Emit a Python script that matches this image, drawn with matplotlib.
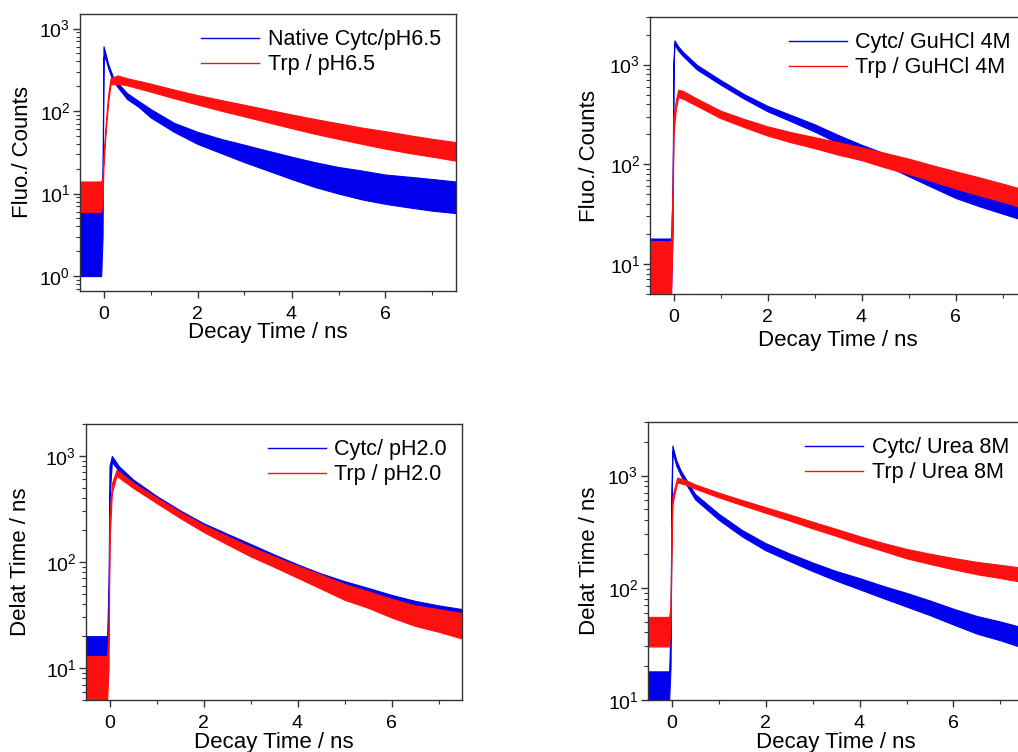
import numpy as np
import matplotlib.pyplot as plt
from matplotlib.ticker import LogLocator, MultipleLocator

plt.rcParams['font.family'] = ['Liberation Sans', 'DejaVu Sans']
plt.rcParams['mathtext.fontset'] = 'custom'
plt.rcParams['mathtext.rm'] = 'Liberation Sans'

BLUE = '#0000ee'
RED = '#ff1010'

# ---- data (noise band: lower / upper envelope) ----
# panel 1: native, pH 6.5
t_native_cytc = [-0.5, -0.05, -0.02, 0.0, 0.05, 0.1, 0.2, 0.35, 0.5, 0.75, 1.0, 1.5, 2.0, 2.5,
                 3.0, 3.5, 4.0, 4.5, 5.0, 5.5, 6.0, 6.5, 7.0, 7.5]
native_cytc_lo = [1, 1, 3, 450, 420, 330, 230, 180, 140, 112, 84, 56, 40, 31,
                  24, 19, 15, 12, 10, 8.5, 7.5, 6.8, 6.2, 5.8]
native_cytc_hi = [6, 6, 20, 610, 480, 370, 260, 205, 165, 132, 106, 72, 56, 46,
                  39, 33, 28, 24, 21, 19, 17, 16, 15, 14]
t_native_trp = [-0.5, -0.05, -0.02, 0.0, 0.05, 0.1, 0.15, 0.3, 0.5, 1.0, 1.5, 2.0, 2.5, 3.0,
                3.5, 4.0, 4.5, 5.0, 5.5, 6.0, 6.5, 7.0, 7.5]
native_trp_lo = [6, 6, 8, 22, 60, 130, 210, 215, 205, 172, 143, 120, 101, 86,
                 73, 62, 53, 46, 40, 35, 31, 28, 25]
native_trp_hi = [14, 14, 16, 28, 75, 160, 250, 270, 250, 215, 182, 156, 136, 119,
                 104, 91, 80, 71, 63, 57, 51, 46, 42]

# panel 2: GuHCl 4M
t_gu_cytc = [-0.5, -0.05, -0.02, 0.0, 0.02, 0.1, 0.2, 0.5, 1.0, 1.5, 2.0, 2.5, 3.0, 3.5,
             4.0, 4.5, 5.0, 5.5, 6.0, 6.5, 7.0, 7.5]
gu_cytc_lo = [6, 6, 20, 900, 1600, 1380, 1220, 890, 630, 455, 340, 270, 213, 163,
              125, 98, 76, 59, 46, 38, 32, 27]
gu_cytc_hi = [18, 18, 60, 1100, 1750, 1520, 1340, 990, 700, 505, 385, 312, 252, 197,
              157, 128, 102, 83, 66, 57, 49, 42]
t_gu_trp = [-0.5, -0.05, -0.02, 0.0, 0.05, 0.1, 0.2, 0.5, 1.0, 1.5, 2.0, 2.5, 3.0, 3.5,
            4.0, 4.5, 5.0, 5.5, 6.0, 6.5, 7.0, 7.5]
gu_trp_lo = [5, 5, 25, 200, 360, 470, 455, 385, 290, 236, 194, 166, 145, 125,
             110, 93, 80, 68, 57, 49, 42, 36]
gu_trp_hi = [17, 17, 55, 300, 440, 560, 545, 455, 345, 285, 240, 210, 187, 167,
             148, 130, 114, 98, 85, 74, 64, 55]

# panel 3: pH 2.0
t_ph2_cytc = [-0.5, -0.05, -0.02, 0.0, 0.05, 0.2, 0.5, 1.0, 1.5, 2.0, 2.5, 3.0, 3.5, 4.0,
              4.5, 5.0, 5.5, 6.0, 6.5, 7.0, 7.5]
ph2_cytc_lo = [7, 7, 25, 400, 880, 720, 540, 375, 270, 200, 155, 122, 96, 75,
               60, 49, 40, 33, 28, 24, 21]
ph2_cytc_hi = [20, 20, 60, 800, 1000, 800, 600, 420, 307, 232, 185, 148, 118, 95,
               78, 66, 57, 49, 43, 39, 36]
t_ph2_trp = [-0.5, -0.05, -0.02, 0.0, 0.05, 0.15, 0.5, 1.0, 1.5, 2.0, 2.5, 3.0, 3.5, 4.0,
             4.5, 5.0, 5.5, 6.0, 6.5, 7.0, 7.5]
ph2_trp_lo = [5, 5, 10, 150, 450, 650, 500, 360, 260, 192, 147, 113, 90, 71,
              56, 44, 37, 30, 25, 22, 19]
ph2_trp_hi = [13, 13, 22, 260, 550, 740, 560, 405, 298, 224, 176, 139, 113, 92,
              76, 62, 53, 45, 39, 36, 33]

# panel 4: Urea 8M
t_urea_cytc = [-0.5, -0.05, -0.02, 0.0, 0.02, 0.1, 0.2, 0.5, 1.0, 1.5, 2.0, 2.5, 3.0, 3.5,
               4.0, 4.5, 5.0, 5.5, 6.0, 6.5, 7.0, 7.5]
urea_cytc_lo = [10, 10, 20, 450, 1650, 1230, 1000, 615, 405, 287, 216, 174, 141, 116,
                97, 81, 68, 57, 47, 39, 34, 29]
urea_cytc_hi = [18, 18, 45, 800, 1850, 1370, 1100, 685, 458, 327, 250, 203, 168, 141,
                122, 104, 90, 77, 65, 56, 50, 44]
t_urea_trp = [-0.5, -0.05, -0.02, 0.0, 0.02, 0.12, 0.3, 0.5, 1.0, 1.5, 2.0, 2.5, 3.0, 3.5,
              4.0, 4.5, 5.0, 5.5, 6.0, 6.5, 7.0, 7.5]
urea_trp_lo = [30, 30, 45, 250, 560, 870, 830, 765, 640, 545, 466, 398, 338, 290,
               247, 213, 183, 163, 146, 132, 122, 112]
urea_trp_hi = [55, 55, 68, 350, 650, 960, 910, 835, 705, 605, 522, 452, 388, 335,
               288, 251, 222, 201, 184, 170, 160, 150]

fig = plt.figure(figsize=(10.18, 7.52), dpi=100)

# axes boxes in pixels (left, top, bottom); width is the same for all
W, H = 1018, 752
boxes = [(80, 14, 291), (650, 17, 294), (86, 424, 700), (648, 422, 700)]
axes = []
for (l, t, b) in boxes:
    axes.append(fig.add_axes([l / W, 1 - b / H, 376 / W, (b - t) / H]))

panels = [
    (t_native_cytc, native_cytc_lo, native_cytc_hi, 'Native Cytc/pH6.5',
     t_native_trp, native_trp_lo, native_trp_hi, 'Trp / pH6.5', (0.66, 1500), 'Fluo./ Counts'),
    (t_gu_cytc, gu_cytc_lo, gu_cytc_hi, 'Cytc/ GuHCl 4M',
     t_gu_trp, gu_trp_lo, gu_trp_hi, 'Trp / GuHCl 4M', (5, 3000), 'Fluo./ Counts'),
    (t_ph2_cytc, ph2_cytc_lo, ph2_cytc_hi, 'Cytc/ pH2.0',
     t_ph2_trp, ph2_trp_lo, ph2_trp_hi, 'Trp / pH2.0', (5, 2000), 'Delat Time / ns'),
    (t_urea_cytc, urea_cytc_lo, urea_cytc_hi, 'Cytc/ Urea 8M',
     t_urea_trp, urea_trp_lo, urea_trp_hi, 'Trp / Urea 8M', (10, 3000), 'Delat Time / ns'),
]
# label positions
ylab_x = [-0.125, -0.133, -0.146, -0.128]
xlab_pad = [-1, 3, -0.5, -0.5]

for i, (ax, p) in enumerate(zip(axes, panels)):
    tb, blo, bhi, lb, tr, rlo, rhi, lr, ylim, ylab = p
    ax.fill_between(tb, blo, bhi, color=BLUE, lw=0.8)
    ax.plot([], [], color=BLUE, lw=1.0, label=lb)
    ax.fill_between(tr, rlo, rhi, color=RED, lw=0.8)
    ax.plot([], [], color=RED, lw=1.0, label=lr)

    ax.set_yscale('log')
    ax.set_xlim(-0.5, 7.5)
    ax.set_ylim(*ylim)
    ax.xaxis.set_major_locator(MultipleLocator(2))
    ax.xaxis.set_minor_locator(MultipleLocator(1))
    ax.yaxis.set_major_locator(LogLocator(base=10))
    ax.yaxis.set_minor_locator(LogLocator(base=10, subs=np.arange(2, 10)))
    ax.tick_params(which='both', direction='out', top=False, right=False,
                   color='#333333', labelsize=14, pad=2)
    ax.tick_params(axis='x', which='both', pad=6)
    ax.tick_params(which='major', length=5, width=1)
    ax.tick_params(which='minor', length=3, width=0.8)
    for s in ax.spines.values():
        s.set_color('#333333')
        s.set_linewidth(1.0)

    ax.set_xlabel('Decay Time / ns', fontsize=16, labelpad=xlab_pad[i])
    ax.set_ylabel(ylab, fontsize=16)
    ax.yaxis.set_label_coords(ylab_x[i], 0.5)
    ax.legend(loc='upper right', frameon=False, fontsize=15.5, handlelength=2.7,
              handletextpad=0.4, labelspacing=0.2, borderaxespad=0.3)

plt.savefig('out.png', dpi=100, facecolor='w')
